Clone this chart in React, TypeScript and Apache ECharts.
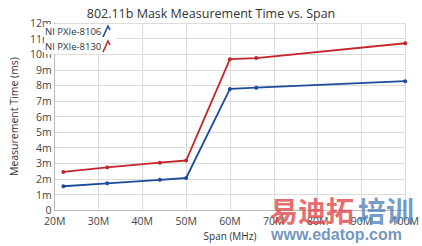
import React, { useEffect, useRef } from "react";
import * as echarts from "echarts";

const spans = [22, 32, 44, 50, 60, 66, 100];
const pxie8106 = [1.53, 1.72, 1.94, 2.06, 7.77, 7.85, 8.27];
const pxie8130 = [2.45, 2.74, 3.04, 3.18, 9.68, 9.75, 10.7];
const xTicks = [20, 30, 40, 50, 60, 70, 80, 90, 100];
const yTicks = [0, 1, 2, 3, 4, 5, 6, 7, 8, 9, 10, 11, 12];
const seriesNames = ["NI PXIe-8106", "NI PXIe-8130"];

const FONT = "'Open Sans', 'Noto Sans', sans-serif";
const BLUE = "#1d4b9c";
const RED = "#c4262b";

export default function App() {
  const ref = useRef<HTMLDivElement>(null);
  useEffect(() => {
    const chart = echarts.init(ref.current!, null, { renderer: "svg" });
    chart.setOption({
      animation: false,
      backgroundColor: "#fff",
      title: {
        text: "802.11b Mask Measurement Time vs. Span",
        left: "center",
        top: 2,
        textStyle: { fontFamily: FONT, fontSize: 12.5, fontWeight: "normal", color: "#333" },
      },
      grid: { left: 36, right: 14, top: 23, bottom: 33 },
      xAxis: {
        type: "value",
        min: xTicks[0],
        max: xTicks[xTicks.length - 1],
        interval: 10,
        name: "Span (MHz)",
        nameLocation: "middle",
        nameGap: 19,
        nameTextStyle: { fontFamily: FONT, fontSize: 10, color: "#333" },
        axisLine: { lineStyle: { color: "#bbb" } },
        axisTick: { show: false },
        axisLabel: {
          fontFamily: FONT,
          fontSize: 10.5,
          color: "#444",
          margin: 5,
          formatter: (v: number) => `${v}M`,
        },
        splitLine: { show: true, lineStyle: { color: "#dcdcdc" } },
      },
      yAxis: {
        type: "value",
        min: yTicks[0],
        max: yTicks[yTicks.length - 1],
        interval: 1,
        name: "Measurement Time (ms)",
        nameLocation: "middle",
        nameGap: 25,
        nameTextStyle: { fontFamily: FONT, fontSize: 10.5, color: "#333" },
        axisLine: { show: true, lineStyle: { color: "#bbb" } },
        axisTick: { show: false },
        axisLabel: {
          fontFamily: FONT,
          fontSize: 10.5,
          color: "#444",
          margin: 3,
          formatter: (v: number) => (v === 0 ? "0" : `${v}m`),
        },
        splitLine: { show: true, lineStyle: { color: "#dcdcdc" } },
      },
      series: [
        {
          name: seriesNames[0],
          type: "line",
          data: spans.map((s, i) => [s, pxie8106[i]]),
          color: BLUE,
          lineStyle: { width: 1.8 },
          symbol: "circle",
          symbolSize: 4,
        },
        {
          name: seriesNames[1],
          type: "line",
          data: spans.map((s, i) => [s, pxie8130[i]]),
          color: RED,
          lineStyle: { width: 1.8 },
          symbol: "circle",
          symbolSize: 4,
        },
      ],
      graphic: [
        {
          type: "rect",
          z: 1,
          x: 44,
          y: 24,
          shape: { x: 0, y: 0, width: 72, height: 30 },
          style: { fill: "#fff" },
        },
        {
          type: "text",
          z: 5,
          x: 45,
          y: 31,
          style: {
            text: seriesNames[0],
            fontFamily: FONT,
            fontSize: 9.5,
            fill: "#333",
            verticalAlign: "middle",
          },
        },
        {
          type: "text",
          z: 5,
          x: 45,
          y: 46,
          style: {
            text: seriesNames[1],
            fontFamily: FONT,
            fontSize: 9.5,
            fill: "#333",
            verticalAlign: "middle",
          },
        },
        {
          type: "polyline",
          z: 5,
          shape: { points: [[103, 37], [108, 26], [110, 30]] },
          style: { stroke: BLUE, lineWidth: 1.6, fill: "none" },
        },
        {
          type: "polyline",
          z: 5,
          shape: { points: [[103, 52], [108, 41], [110, 45]] },
          style: { stroke: RED, lineWidth: 1.6, fill: "none" },
        },
        {
          type: "text",
          left: 270,
          top: 196,
          z: 5,
          style: {
            text: "易迪拓",
            fontSize: 28,
            fontWeight: "bold",
            fontFamily: "'Noto Sans CJK SC', sans-serif",
            fill: "rgba(225,70,70,0.8)",
          },
        },
        {
          type: "text",
          left: 358,
          top: 196,
          z: 5,
          style: {
            text: "培训",
            fontSize: 28,
            fontWeight: "bold",
            fontFamily: "'Noto Sans CJK SC', sans-serif",
            fill: "rgba(80,130,185,0.8)",
          },
        },
        {
          type: "text",
          left: 271,
          top: 226,
          z: 5,
          style: {
            text: "www.edatop.com",
            fontSize: 16,
            fontWeight: "bold",
            fontFamily: "'Liberation Sans', sans-serif",
            fill: "rgba(90,130,180,0.85)",
          },
        },
      ],
    });
    return () => chart.dispose();
  }, []);
  return <div ref={ref} style={{ width: 422, height: 246, position: "absolute", left: 0, top: 0 }} />;
}
